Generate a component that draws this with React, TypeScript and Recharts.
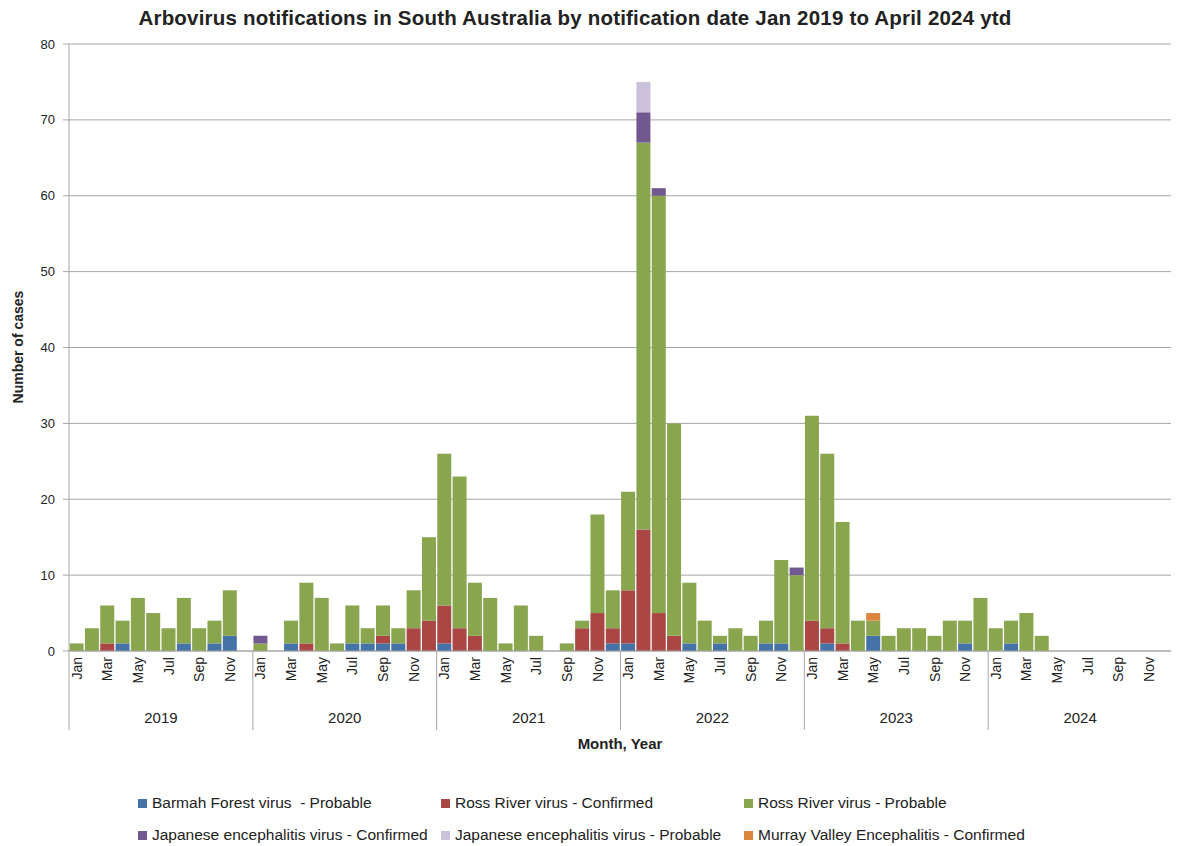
import { BarChart, Bar, XAxis, YAxis, CartesianGrid } from "recharts";

const years = ["2019", "2020", "2021", "2022", "2023", "2024"];
const monthNames = ["Jan", "Feb", "Mar", "Apr", "May", "Jun", "Jul", "Aug", "Sep", "Oct", "Nov", "Dec"];
const yTicks = [0, 10, 20, 30, 40, 50, 60, 70, 80];

// monthly counts, Jan 2019 .. Dec 2024 (one row per year)
const barmahProbable = [
  0, 0, 0, 1, 0, 0, 0, 1, 0, 1, 2, 0,
  0, 0, 1, 0, 0, 0, 1, 1, 1, 1, 0, 0,
  1, 0, 0, 0, 0, 0, 0, 0, 0, 0, 0, 1,
  1, 0, 0, 0, 1, 0, 1, 0, 0, 1, 1, 0,
  0, 1, 0, 0, 2, 0, 0, 0, 0, 0, 1, 0,
  0, 1, 0, 0, 0, 0, 0, 0, 0, 0, 0, 0,
];
const rossRiverConfirmed = [
  0, 0, 1, 0, 0, 0, 0, 0, 0, 0, 0, 0,
  0, 0, 0, 1, 0, 0, 0, 0, 1, 0, 3, 4,
  5, 3, 2, 0, 0, 0, 0, 0, 0, 3, 5, 2,
  7, 16, 5, 2, 0, 0, 0, 0, 0, 0, 0, 0,
  4, 2, 1, 0, 0, 0, 0, 0, 0, 0, 0, 0,
  0, 0, 0, 0, 0, 0, 0, 0, 0, 0, 0, 0,
];
const rossRiverProbable = [
  1, 3, 5, 3, 7, 5, 3, 6, 3, 3, 6, 0,
  1, 0, 3, 8, 7, 1, 5, 2, 4, 2, 5, 11,
  20, 20, 7, 7, 1, 6, 2, 0, 1, 1, 13, 5,
  13, 51, 55, 28, 8, 4, 1, 3, 2, 3, 11, 10,
  27, 23, 16, 4, 2, 2, 3, 3, 2, 4, 3, 7,
  3, 3, 5, 2, 0, 0, 0, 0, 0, 0, 0, 0,
];
const jeConfirmed = [
  0, 0, 0, 0, 0, 0, 0, 0, 0, 0, 0, 0,
  1, 0, 0, 0, 0, 0, 0, 0, 0, 0, 0, 0,
  0, 0, 0, 0, 0, 0, 0, 0, 0, 0, 0, 0,
  0, 4, 1, 0, 0, 0, 0, 0, 0, 0, 0, 1,
  0, 0, 0, 0, 0, 0, 0, 0, 0, 0, 0, 0,
  0, 0, 0, 0, 0, 0, 0, 0, 0, 0, 0, 0,
];
const jeProbable = [
  0, 0, 0, 0, 0, 0, 0, 0, 0, 0, 0, 0,
  0, 0, 0, 0, 0, 0, 0, 0, 0, 0, 0, 0,
  0, 0, 0, 0, 0, 0, 0, 0, 0, 0, 0, 0,
  0, 4, 0, 0, 0, 0, 0, 0, 0, 0, 0, 0,
  0, 0, 0, 0, 0, 0, 0, 0, 0, 0, 0, 0,
  0, 0, 0, 0, 0, 0, 0, 0, 0, 0, 0, 0,
];
const mveConfirmed = [
  0, 0, 0, 0, 0, 0, 0, 0, 0, 0, 0, 0,
  0, 0, 0, 0, 0, 0, 0, 0, 0, 0, 0, 0,
  0, 0, 0, 0, 0, 0, 0, 0, 0, 0, 0, 0,
  0, 0, 0, 0, 0, 0, 0, 0, 0, 0, 0, 0,
  0, 0, 0, 0, 1, 0, 0, 0, 0, 0, 0, 0,
  0, 0, 0, 0, 0, 0, 0, 0, 0, 0, 0, 0,
];

const series = [
  { key: "bfp", name: "Barmah Forest virus  - Probable", color: "#4572A7", values: barmahProbable },
  { key: "rrc", name: "Ross River virus - Confirmed", color: "#AA4643", values: rossRiverConfirmed },
  { key: "rrp", name: "Ross River virus - Probable", color: "#89A54E", values: rossRiverProbable },
  { key: "jec", name: "Japanese encephalitis virus - Confirmed", color: "#71588F", values: jeConfirmed },
  { key: "jep", name: "Japanese encephalitis virus - Probable", color: "#CCC1DA", values: jeProbable },
  { key: "mvc", name: "Murray Valley Encephalitis - Confirmed", color: "#DB843D", values: mveConfirmed },
];

const data = years.flatMap((year, yi) =>
  monthNames.map((month, mi) => {
    const i = yi * 12 + mi;
    const row: Record<string, any> = { month, year };
    series.forEach((s) => (row[s.key] = s.values[i]));
    return row;
  })
);

const W = 1171;
const H = 838;
const MARGIN = { top: 36, right: 7, left: 0, bottom: 115 };
const Y_W = 61;
const BAND = (W - MARGIN.left - MARGIN.right - Y_W) / data.length;
const GRID = "#a6a6a6";
const FONT = "'Liberation Sans', Arial, sans-serif";

function MonthTick(props: any) {
  const { x, y, payload } = props;
  const i = payload.index;
  const half = BAND / 2;
  return (
    <g>
      {i % 2 === 0 && (
        <text
          x={x}
          y={y + 6}
          transform={`rotate(-90, ${x}, ${y + 6})`}
          textAnchor="end"
          dominantBaseline="central"
          fontSize={14}
          fill="#222"
        >
          {payload.value}
        </text>
      )}
      {i % 12 === 0 && <line x1={x - half} x2={x - half} y1={y} y2={y + 79} stroke={GRID} />}
      {i === data.length - 1 && <line x1={x + half} x2={x + half} y1={y} y2={y + 79} stroke={GRID} />}
      {i % 12 === 6 && (
        <text x={x - half} y={y + 72} textAnchor="middle" fontSize={15} fill="#222">
          {data[i].year}
        </text>
      )}
    </g>
  );
}

export default function App() {
  return (
    <div style={{ position: "relative", width: W, height: H, fontFamily: FONT, color: "#222" }}>
      <BarChart width={W} height={H} data={data} margin={MARGIN} barCategoryGap={0.6} style={{ fontFamily: FONT }}>
        <CartesianGrid vertical={false} stroke={GRID} />
        <XAxis
          dataKey="month"
          interval={0}
          tickSize={0}
          tickMargin={0}
          tickLine={false}
          height={80}
          axisLine={{ stroke: GRID }}
          tick={<MonthTick />}
        />
        <YAxis
          width={Y_W}
          domain={[0, 80]}
          ticks={yTicks}
          interval={0}
          tickSize={6}
          tickMargin={8}
          axisLine={{ stroke: GRID }}
          tickLine={{ stroke: GRID }}
          tick={{ fontSize: 13, fill: "#222" }}
        />
        {series.map((s) => (
          <Bar key={s.key} dataKey={s.key} name={s.name} stackId="a" fill={s.color} isAnimationActive={false} />
        ))}
      </BarChart>

      <div
        style={{
          position: "absolute",
          left: 567,
          top: 10,
          transform: "translate(-50%, -50%)",
          whiteSpace: "nowrap",
          fontWeight: "bold",
          fontSize: 20.5,
          letterSpacing: 0.2,
        }}
      >
        Arbovirus notifications in South Australia by notification date Jan 2019 to April 2024 ytd
      </div>
      <div
        style={{
          position: "absolute",
          left: 10,
          top: 339,
          transform: "translate(-50%, -50%) rotate(-90deg)",
          whiteSpace: "nowrap",
          fontWeight: "bold",
          fontSize: 14,
        }}
      >
        Number of cases
      </div>
      <div
        style={{
          position: "absolute",
          left: 612,
          top: 735,
          transform: "translate(-50%, -50%)",
          whiteSpace: "nowrap",
          fontWeight: "bold",
          fontSize: 15,
        }}
      >
        Month, Year
      </div>
      {series.map((s, i) => (
        <div
          key={s.key}
          style={{
            position: "absolute",
            left: 130 + (i % 3) * 303,
            top: 795 + Math.floor(i / 3) * 32,
            transform: "translateY(-50%)",
            display: "flex",
            alignItems: "center",
            whiteSpace: "pre",
            fontSize: 15.5,
          }}
        >
          <span style={{ display: "inline-block", width: 9, height: 9, background: s.color, marginRight: 5 }} />
          {s.name}
        </div>
      ))}
    </div>
  );
}
